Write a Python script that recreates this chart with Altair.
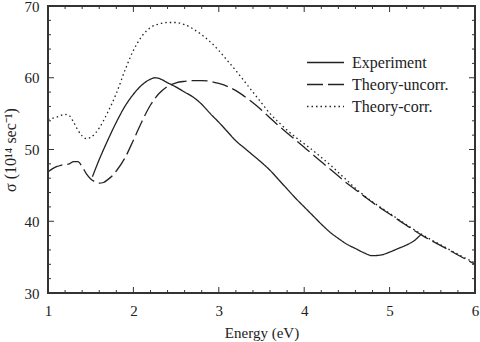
import altair as alt
import pandas as pd

# Experimental optical conductivity
exp_e = [1.52, 1.6, 1.7, 1.8, 1.9, 2.0, 2.1, 2.2, 2.25, 2.3, 2.4, 2.5, 2.6, 2.7, 2.8, 2.9,
         3.0, 3.1, 3.2, 3.3, 3.4, 3.5, 3.6, 3.7, 3.8, 3.9, 4.0, 4.1, 4.2, 4.3, 4.4, 4.5,
         4.6, 4.7, 4.8, 4.9, 5.0, 5.1, 5.2, 5.3, 5.37]
exp_s = [46.2, 48.6, 51.3, 53.8, 56.0, 57.7, 59.0, 59.8, 60.0, 59.9, 59.3, 58.7, 58.0, 57.3, 56.3, 55.0,
         53.8, 52.5, 51.2, 50.2, 49.2, 48.2, 47.1, 45.8, 44.5, 43.2, 42.0, 40.8, 39.6, 38.5, 37.6, 36.8,
         36.2, 35.6, 35.2, 35.3, 35.7, 36.2, 36.7, 37.4, 38.2]

# Theory without correlation corrections
unc_e = [1.0, 1.05, 1.1, 1.15, 1.2, 1.25, 1.3, 1.35, 1.4, 1.45, 1.5, 1.55, 1.6, 1.65, 1.7, 1.75,
         1.8, 1.9, 2.0, 2.1, 2.2, 2.3, 2.4, 2.5, 2.6, 2.7, 2.8, 2.9, 3.0, 3.1, 3.2, 3.3, 3.4,
         3.5, 3.6, 3.7, 3.8, 3.9, 4.0, 4.1, 4.2, 4.3, 4.4, 4.5, 4.6, 4.7, 4.8, 4.9, 5.0, 5.2,
         5.4, 5.6, 5.8, 6.0]
unc_s = [46.9, 47.3, 47.6, 47.8, 47.9, 48.0, 48.3, 48.3, 47.6, 46.6, 45.9, 45.5, 45.3, 45.4, 45.8, 46.3,
         47.0, 48.8, 51.3, 53.9, 56.2, 57.8, 58.8, 59.3, 59.5, 59.6, 59.6, 59.5, 59.2, 58.8, 58.2, 57.4, 56.5,
         55.5, 54.4, 53.3, 52.3, 51.3, 50.3, 49.3, 48.3, 47.3, 46.3, 45.3, 44.4, 43.5, 42.6, 41.8, 41.0, 39.4,
         37.9, 36.6, 35.3, 34.0]

# Theory with correlation corrections
cor_e = [1.0, 1.1, 1.2, 1.25, 1.3, 1.35, 1.4, 1.45, 1.5, 1.55, 1.6, 1.7, 1.8, 1.9, 2.0, 2.1, 2.2,
         2.3, 2.4, 2.5, 2.6, 2.7, 2.8, 2.9, 3.0, 3.1, 3.2, 3.3, 3.4, 3.5, 3.6, 3.7, 3.8, 3.9,
         4.0, 4.1, 4.2, 4.3, 4.4, 4.5, 4.6, 4.7, 4.8, 4.9, 5.0, 5.2, 5.4, 5.6, 5.8, 6.0]
cor_s = [54.2, 54.5, 54.9, 54.7, 53.8, 52.7, 51.9, 51.5, 51.7, 52.2, 53.0, 55.2, 57.8, 61.0, 63.8, 65.8, 67.0,
         67.5, 67.7, 67.7, 67.4, 66.8, 66.0, 65.0, 63.8, 62.4, 61.0, 59.5, 58.0, 56.5, 55.0, 53.8, 52.7, 51.7,
         50.8, 49.9, 48.9, 47.9, 46.8, 45.7, 44.6, 43.6, 42.7, 41.9, 41.1, 39.5, 38.0, 36.7, 35.4, 34.2]

series = ["Experiment", "Theory-uncorr.", "Theory-corr."]
dashes = [[1, 0], [16, 5], [1.5, 3]]

x_major = [1, 2, 3, 4, 5, 6]
y_major = [30, 40, 50, 60, 70]
x_minor = [round(1 + 0.2 * i, 1) for i in range(26) if i % 5 != 0]
y_minor = [30 + 2 * i for i in range(21) if i % 5 != 0]

W, H = 427, 287
SERIF = "Liberation Serif"
INK = "#222222"
FRAME = "#333333"

frames = []
for name, e, s in [(series[0], exp_e, exp_s), (series[1], unc_e, unc_s), (series[2], cor_e, cor_s)]:
    frames.append(pd.DataFrame({"E": e, "sigma": s, "series": name}))
df = pd.concat(frames, ignore_index=True)

xs = alt.Scale(domain=[1, 6], nice=False, zero=False)
ys = alt.Scale(domain=[30, 70], nice=False, zero=False)

x_axis = alt.Axis(values=x_major, format="d", tickSize=0, domain=False, grid=False, labelFlush=False,
                  labelFont=SERIF, labelFontSize=15, labelColor=INK, labelPadding=10,
                  title="Energy (eV)", titleFont=SERIF, titleFontSize=15, titleFontWeight="normal",
                  titleColor=INK, titlePadding=7)
y_axis = alt.Axis(values=y_major, format="d", tickSize=0, domain=False, grid=False, labelFlush=False,
                  labelFont=SERIF, labelFontSize=15, labelColor=INK, labelPadding=9,
                  title="σ (10¹⁴ sec⁻¹)", titleFont=SERIF, titleFontSize=16, titleFontWeight="normal",
                  titleColor=INK, titlePadding=6)

lines = alt.Chart(df).mark_line(strokeWidth=1.3, interpolate="monotone").encode(
    x=alt.X("E:Q", scale=xs, axis=x_axis),
    y=alt.Y("sigma:Q", scale=ys, axis=y_axis),
    strokeDash=alt.StrokeDash("series:N", scale=alt.Scale(domain=series, range=dashes), legend=None),
    color=alt.value(INK),
    detail="series:N",
)

# Inward tick marks on all four sides
def xticks(vals, length):
    d = pd.DataFrame({"E": vals})
    base = alt.Chart(d).mark_rule(color=FRAME, strokeWidth=1)
    bottom = base.encode(x=alt.X("E:Q", scale=xs, axis=x_axis), y=alt.value(H), y2=alt.value(H - length))
    top = base.encode(x=alt.X("E:Q", scale=xs, axis=x_axis), y=alt.value(0), y2=alt.value(length))
    return [bottom, top]

def yticks(vals, length):
    d = pd.DataFrame({"sigma": vals})
    base = alt.Chart(d).mark_rule(color=FRAME, strokeWidth=1)
    left = base.encode(y=alt.Y("sigma:Q", scale=ys, axis=y_axis), x=alt.value(0), x2=alt.value(length))
    right = base.encode(y=alt.Y("sigma:Q", scale=ys, axis=y_axis), x=alt.value(W), x2=alt.value(W - length))
    return [left, right]

ticks = xticks(x_major, 6) + xticks(x_minor, 3) + yticks(y_major, 6) + yticks(y_minor, 3)

# Plot frame
frame = alt.Chart(pd.DataFrame({"k": [0]})).mark_rect(
    fillOpacity=0, stroke=FRAME, strokeWidth=2
).encode(x=alt.value(0), x2=alt.value(W), y=alt.value(0), y2=alt.value(H))

# Legend drawn inside the plot area
legend_layers = []
for i, (name, dash) in enumerate(zip(series, dashes)):
    yy = 56.5 + 22 * i
    row = pd.DataFrame({"series": [name]})
    legend_layers.append(
        alt.Chart(row).mark_rule(strokeWidth=1.3, color=INK, strokeDash=dash).encode(
            x=alt.value(259), x2=alt.value(296), y=alt.value(yy))
    )
    legend_layers.append(
        alt.Chart(row).mark_text(align="left", baseline="middle", font=SERIF, fontSize=16,
                                 color=INK).encode(x=alt.value(304), y=alt.value(yy), text="series:N")
    )

chart = alt.layer(lines, *ticks, frame, *legend_layers).properties(
    width=W, height=H,
    autosize=alt.AutoSizeParams(type="none"),
    padding={"left": 48, "top": 6, "right": 5, "bottom": 49},
).configure_view(stroke=None).configure(background="white")

chart.save("out.html", embed_options={"renderer": "svg", "actions": False})
